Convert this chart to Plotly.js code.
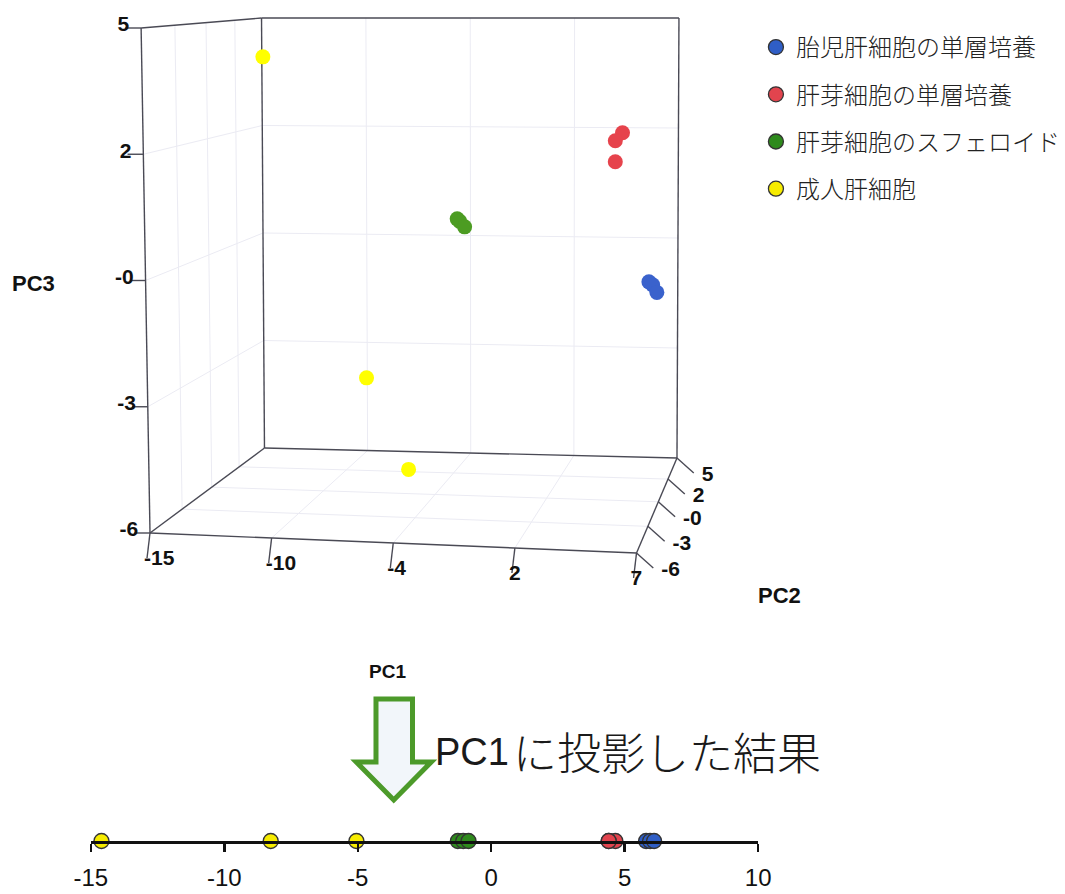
<!DOCTYPE html>
<html>
<head>
<meta charset="utf-8">
<script src="https://cdn.plot.ly/plotly-3.0.1.min.js"></script>
<style>html,body{margin:0;padding:0;background:#fff;}#chart{width:1065px;height:894px;}</style>
</head>
<body>
<div id="chart"></div>
<script>
// ---------------- DATA ----------------
const seriesNames = ['胎児肝細胞の単層培養', '肝芽細胞の単層培養', '肝芽細胞のスフェロイド', '成人肝細胞'];

// PCA scores (PC1, PC2, PC3) for each group
const bluePC1 = [5.8, 5.95, 6.1];
const bluePC2 = [3.26, 3.5, 3.88];
const bluePC3 = [-1.4, -1.5, -1.73];

const redPC1 = [4.65, 4.4, 4.4];
const redPC2 = [2.16, 1.64, 1.64];
const redPC3 = [2.3, 2.14, 1.64];

const greenPC1 = [-1.25, -1.05, -0.85];
const greenPC2 = [-5.3, -5.55, -5.5];
const greenPC3 = [0.88, 0.85, 0.73];

const yellowPC1 = [-14.6, -8.26, -5.05];
const yellowPC2 = [4.3, 1.81, -1.17];
const yellowPC3 = [4.03, -3.67, -5.31];

// 3D box axis ranges and ticks (labels are rounded, as in the original)
const pc1Range = [-15, 7];
const pc2Range = [-6, 5];
const pc3Range = [-6, 5];
const pc1TickVals = [-15, -9.5, -4, 1.5, 7];
const pc1TickText = ['-15', '-10', '-4', '2', '7'];
const pc2TickVals = [-6, -3.25, -0.5, 2.25, 5];
const pc2TickText = ['-6', '-3', '-0', '2', '5'];
const pc3TickVals = [-6, -3.25, -0.5, 2.25, 5];
const pc3TickText = ['-6', '-3', '-0', '2', '5'];

// PC1 projection strip axis
const stripTickVals = [-15, -10, -5, 0, 5, 10];
const stripTickText = ['-15', '-10', '-5', '0', '5', '10'];

// ---------------- STYLE / VIEW ----------------
const col3d = ['#3a62cc', '#e6434c', '#4c9c22', '#ffff00'];
const colStrip = ['#2f5ec6', '#e2444e', '#2e8a1c', '#f7ec00'];

// On-screen corners of the 3D box (view setup): key = [PC1 hi?][PC2 back?][PC3 hi?]
const BOX = {
  '000': [152, 533], '100': [645, 553], '010': [268, 448], '110': [686, 458],
  '001': [143, 28],  '101': [645, 28],  '011': [265, 18],  '111': [688, 18]
};
const DEPTH_RATIO = 1.17; // perspective foreshortening along PC2

function project(a, b, c) {
  const u = (a - pc1Range[0]) / (pc1Range[1] - pc1Range[0]);
  const v = (b - pc2Range[0]) / (pc2Range[1] - pc2Range[0]);
  const w = (c - pc3Range[0]) / (pc3Range[1] - pc3Range[0]);
  const t = v * DEPTH_RATIO / (1 + v * (DEPTH_RATIO - 1));
  let X = 0, Y = 0;
  for (let i = 0; i < 2; i++) for (let j = 0; j < 2; j++) for (let k = 0; k < 2; k++) {
    const wt = (i ? u : 1 - u) * (j ? t : 1 - t) * (k ? w : 1 - w);
    const p = BOX['' + i + j + k];
    X += wt * p[0]; Y += wt * p[1];
  }
  return [X, Y];
}

const traces = [];
const L1 = pc1Range, L2 = pc2Range, L3 = pc3Range;

function segTrace(segs, color, width) {
  const xs = [], ys = [];
  segs.forEach(s => {
    const p = project(s[0], s[1], s[2]);
    const q = project(s[3], s[4], s[5]);
    xs.push(p[0], q[0], null); ys.push(p[1], q[1], null);
  });
  return {type: 'scatter', mode: 'lines', xaxis: 'x2', yaxis: 'y2', x: xs, y: ys,
          line: {color: color, width: width}, showlegend: false, hoverinfo: 'skip', connectgaps: false};
}

// grid lines on the three far walls
const gridSegs = [];
pc1TickVals.slice(1, -1).forEach(a => {
  gridSegs.push([a, L2[1], L3[0], a, L2[1], L3[1]]); // back wall verticals
  gridSegs.push([a, L2[0], L3[0], a, L2[1], L3[0]]); // floor
});
pc2TickVals.slice(1, -1).forEach(b => {
  gridSegs.push([L1[0], b, L3[0], L1[0], b, L3[1]]); // left wall verticals
  gridSegs.push([L1[0], b, L3[0], L1[1], b, L3[0]]); // floor
});
pc3TickVals.slice(1, -1).forEach(c => {
  gridSegs.push([L1[0], L2[1], c, L1[1], L2[1], c]); // back wall
  gridSegs.push([L1[0], L2[0], c, L1[0], L2[1], c]); // left wall
});
traces.push(segTrace(gridSegs, '#ebebf3', 1));

// box edges
const edgeSegs = [
  [L1[0], L2[0], L3[0], L1[0], L2[0], L3[1]],
  [L1[0], L2[0], L3[0], L1[1], L2[0], L3[0]],
  [L1[0], L2[0], L3[1], L1[0], L2[1], L3[1]],
  [L1[0], L2[1], L3[1], L1[1], L2[1], L3[1]],
  [L1[1], L2[1], L3[1], L1[1], L2[1], L3[0]],
  [L1[1], L2[0], L3[0], L1[1], L2[1], L3[0]],
  [L1[0], L2[1], L3[0], L1[1], L2[1], L3[0]],
  [L1[0], L2[0], L3[0], L1[0], L2[1], L3[0]],
  [L1[0], L2[1], L3[0], L1[0], L2[1], L3[1]]
];
traces.push(segTrace(edgeSegs, '#4a4a55', 1.4));

// tick marks + labels
const tickFont = {family: 'Liberation Sans, Arial', size: 21, color: '#111', weight: 'bold'};
const tX = [], tY = [];
function addTick(p, dx, dy) { tX.push(p[0], p[0] + dx, null); tY.push(p[1], p[1] + dy, null); }
const lab1 = {x: [], y: []}, lab2 = {x: [], y: []}, lab3 = {x: [], y: []};
pc1TickVals.forEach(a => { const p = project(a, L2[0], L3[0]); addTick(p, -3, 25); lab1.x.push(p[0] - 6); lab1.y.push(p[1] + 27); });
pc2TickVals.forEach(b => { const p = project(L1[1], b, L3[0]); addTick(p, 17, 15); lab2.x.push(p[0] + 25); lab2.y.push(p[1] + 18); });
pc3TickVals.forEach(c => { const p = project(L1[0], L2[0], c); addTick(p, -16, 0); lab3.x.push(p[0] - 12); lab3.y.push(p[1] - 2); });
traces.push({type: 'scatter', mode: 'lines', xaxis: 'x2', yaxis: 'y2', x: tX, y: tY,
             line: {color: '#4a4a55', width: 1.4}, showlegend: false, hoverinfo: 'skip'});
traces.push({type: 'scatter', mode: 'text', xaxis: 'x2', yaxis: 'y2', x: lab1.x, y: lab1.y, text: pc1TickText,
             textposition: 'middle right', textfont: tickFont, showlegend: false, hoverinfo: 'skip', cliponaxis: false});
traces.push({type: 'scatter', mode: 'text', xaxis: 'x2', yaxis: 'y2', x: lab2.x, y: lab2.y, text: pc2TickText,
             textposition: 'middle right', textfont: tickFont, showlegend: false, hoverinfo: 'skip', cliponaxis: false});
traces.push({type: 'scatter', mode: 'text', xaxis: 'x2', yaxis: 'y2', x: lab3.x, y: lab3.y, text: pc3TickText,
             textposition: 'middle left', textfont: tickFont, showlegend: false, hoverinfo: 'skip', cliponaxis: false});

// 3D points
const pc1 = [bluePC1, redPC1, greenPC1, yellowPC1];
const pc2 = [bluePC2, redPC2, greenPC2, yellowPC2];
const pc3 = [bluePC3, redPC3, greenPC3, yellowPC3];
for (let i = 0; i < 4; i++) {
  const pts = pc1[i].map((a, k) => project(a, pc2[i][k], pc3[i][k]));
  traces.push({type: 'scatter', mode: 'markers', xaxis: 'x2', yaxis: 'y2',
    x: pts.map(p => p[0]), y: pts.map(p => p[1]),
    marker: {size: 15, color: col3d[i], line: {width: 0}},
    showlegend: false, hoverinfo: 'skip', cliponaxis: false});
}

// PC1 projection strip (also provides the legend)
for (let i = 0; i < 4; i++) {
  traces.push({type: 'scatter', mode: 'markers', xaxis: 'x', yaxis: 'y',
    x: pc1[i], y: pc1[i].map(() => 0),
    name: seriesNames[i], legendgroup: 'g' + i,
    marker: {size: 15, color: colStrip[i], line: {color: '#333', width: 1.3}},
    cliponaxis: false, hoverinfo: 'skip'});
}

const W = 1065, H = 894;
const px = v => v / W, py = v => 1 - v / H;

const layout = {
  width: W, height: H,
  margin: {l: 0, r: 0, t: 0, b: 0},
  paper_bgcolor: '#fff', plot_bgcolor: 'rgba(0,0,0,0)',
  showlegend: true,
  legend: {
    x: px(766), y: py(25), xanchor: 'left', yanchor: 'top',
    font: {family: 'Noto Sans CJK JP', size: 24, color: '#222', weight: 300},
    tracegroupgap: 13, bgcolor: 'rgba(0,0,0,0)'
  },
  xaxis2: {domain: [0, 1], range: [0, W], visible: false, fixedrange: true, anchor: 'y2'},
  yaxis2: {domain: [0, 1], range: [H, 0], visible: false, fixedrange: true, anchor: 'x2'},
  xaxis: {
    domain: [px(92), px(768.3)], range: [-15, 10], anchor: 'y',
    tickvals: stripTickVals, ticktext: stripTickText,
    ticks: 'outside', ticklen: 8, tickwidth: 2.5, tickcolor: '#111', ticklabelstandoff: 6,
    showline: true, linecolor: '#111', linewidth: 2.5, showgrid: false, zeroline: false,
    tickfont: {family: 'Liberation Sans, Arial', size: 24, color: '#111'}, fixedrange: true
  },
  yaxis: {domain: [py(841), py(831)], range: [0, 1], visible: false, fixedrange: true},
  shapes: [{
    type: 'path', xref: 'paper', yref: 'paper',
    path: 'M ' + px(381) + ' ' + py(699) + ' L ' + px(418) + ' ' + py(699) +
          ' L ' + px(418) + ' ' + py(762) + ' L ' + px(437) + ' ' + py(762) +
          ' L ' + px(399) + ' ' + py(800) + ' L ' + px(361) + ' ' + py(762) +
          ' L ' + px(381) + ' ' + py(762) + ' Z',
    line: {color: '#4c9a2a', width: 5}, fillcolor: '#f2f6fa'
  }],
  annotations: [
    {text: '<b>PC3</b>', xref: 'paper', yref: 'paper', x: px(34), y: py(283), xanchor: 'center', yanchor: 'middle', showarrow: false,
     font: {family: 'Liberation Sans, Arial', size: 22, color: '#111'}},
    {text: '<b>PC2</b>', xref: 'paper', yref: 'paper', x: px(790), y: py(595), xanchor: 'center', yanchor: 'middle', showarrow: false,
     font: {family: 'Liberation Sans, Arial', size: 22, color: '#111'}},
    {text: '<b>PC1</b>', xref: 'paper', yref: 'paper', x: px(393), y: py(671), xanchor: 'center', yanchor: 'middle', showarrow: false,
     font: {family: 'Liberation Sans, Arial', size: 19, color: '#111'}},
    {text: 'PC1', xref: 'paper', yref: 'paper', x: px(439), y: py(752), xanchor: 'left', yanchor: 'middle', showarrow: false,
     font: {family: 'Liberation Sans, Arial', size: 38, color: '#1a1a1a'}},
    {text: 'に投影した結果', xref: 'paper', yref: 'paper', x: px(518), y: py(751), xanchor: 'left', yanchor: 'middle', showarrow: false,
     font: {family: 'Noto Sans CJK JP', size: 44, color: '#1a1a1a', weight: 300}}
  ]
};

Plotly.newPlot('chart', traces, layout, {staticPlot: true, displayModeBar: false});
</script>
</body>
</html>
